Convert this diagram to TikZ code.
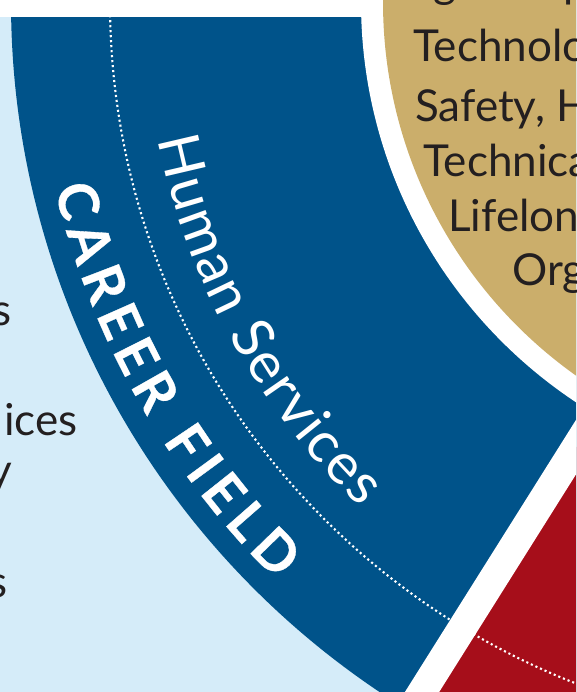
\documentclass[tikz,border=0pt]{standalone}
\usepackage{fontspec}
\setmainfont{Lato}
\newfontfamily\cfheavy{Lato}[BoldFeatures={FakeBold=0.6}]
\usetikzlibrary{decorations.text,calc}
\definecolor{hsblue}{RGB}{0,83,138}
\definecolor{bgblue}{RGB}{213,236,249}
\definecolor{gold}{RGB}{203,174,107}
\definecolor{cfred}{RGB}{166,14,26}
\definecolor{ink}{RGB}{35,31,32}
\tikzset{
  gtext/.style={anchor=base west, inner sep=0pt, text=ink, font=\fontsize{44}{52}\selectfont},
  ltext/.style={anchor=base east, inner sep=0pt, text=ink, font=\fontsize{44}{52}\selectfont},
  dots/.style={white, line width=2.1pt, dash pattern=on 2.1pt off 2.9pt},
  gap/.style={white, line width=29pt}
}
\begin{document}
\begin{tikzpicture}[x=1pt,y=1pt]
\useasboundingbox (0,0) rectangle (576,-692);
\clip (0,0) rectangle (576,-692);
\coordinate (O) at (841,-2);
\coordinate (s0) at (390.1,-742.8);
\coordinate (s1) at (741.2,-184.4);
% background
\fill[bgblue] (0,-17) rectangle (576,-692);
% ring
\begin{scope}
  \clip (O) circle[radius=830];
  \fill[hsblue] (0,0) rectangle (600,-720);
  \fill[cfred] (s0) -- (s1) -- (900,-184) -- (900,-800) -- cycle;
\end{scope}
% dotted circle
\draw[dots] (O) circle[radius=731];
% separator gap
\draw[gap] (s0) -- (s1);
% top white band
\fill[white] (0,0) rectangle (576,-17);
% white gap + gold centre
\fill[white] (O) circle[radius=480];
\fill[gold] (O) circle[radius=458];
\begin{scope}
  \clip (O) circle[radius=458];
  \node[gtext, anchor=base east] (t0a) at (433,2) {Learnin};
  \node[gtext] (t0b) at (t0a.base east) {g Group};
  \node[gtext] (t1) at (413,-62) {Technology};
  \node[gtext] (t2) at (415,-122) {Safety, Health};
  \node[gtext] (t3) at (423,-177) {Technical};
  \node[gtext] (t4) at (448,-232) {Lifelong};
  \node[gtext] (t5) at (512,-285) {Organization};
\end{scope}
% left list fragments
\node[ltext] (l1) at (12,-325) {s};
\node[ltext] (l2) at (78,-435) {ices};
\node[ltext] (l3) at (12,-485) {y};
\node[ltext] (l4) at (8,-597) {s};
% curved labels
\path[decorate, decoration={text along path, text align=fit to path,
  text={|\color{white}\fontsize{57}{57}\selectfont|Human Services}}]
  ($(O)+(191.4:697)$) arc[start angle=191.4, end angle=226.5, radius=697];
\path[decorate, decoration={text along path, text align=fit to path,
  text={|\color{white}\cfheavy\bfseries\fontsize{55}{55}\selectfont|CAREER FIELD}}]
  ($(O)+(193.3:808)$) arc[start angle=193.3, end angle=225.7, radius=808];
\end{tikzpicture}
\end{document}
